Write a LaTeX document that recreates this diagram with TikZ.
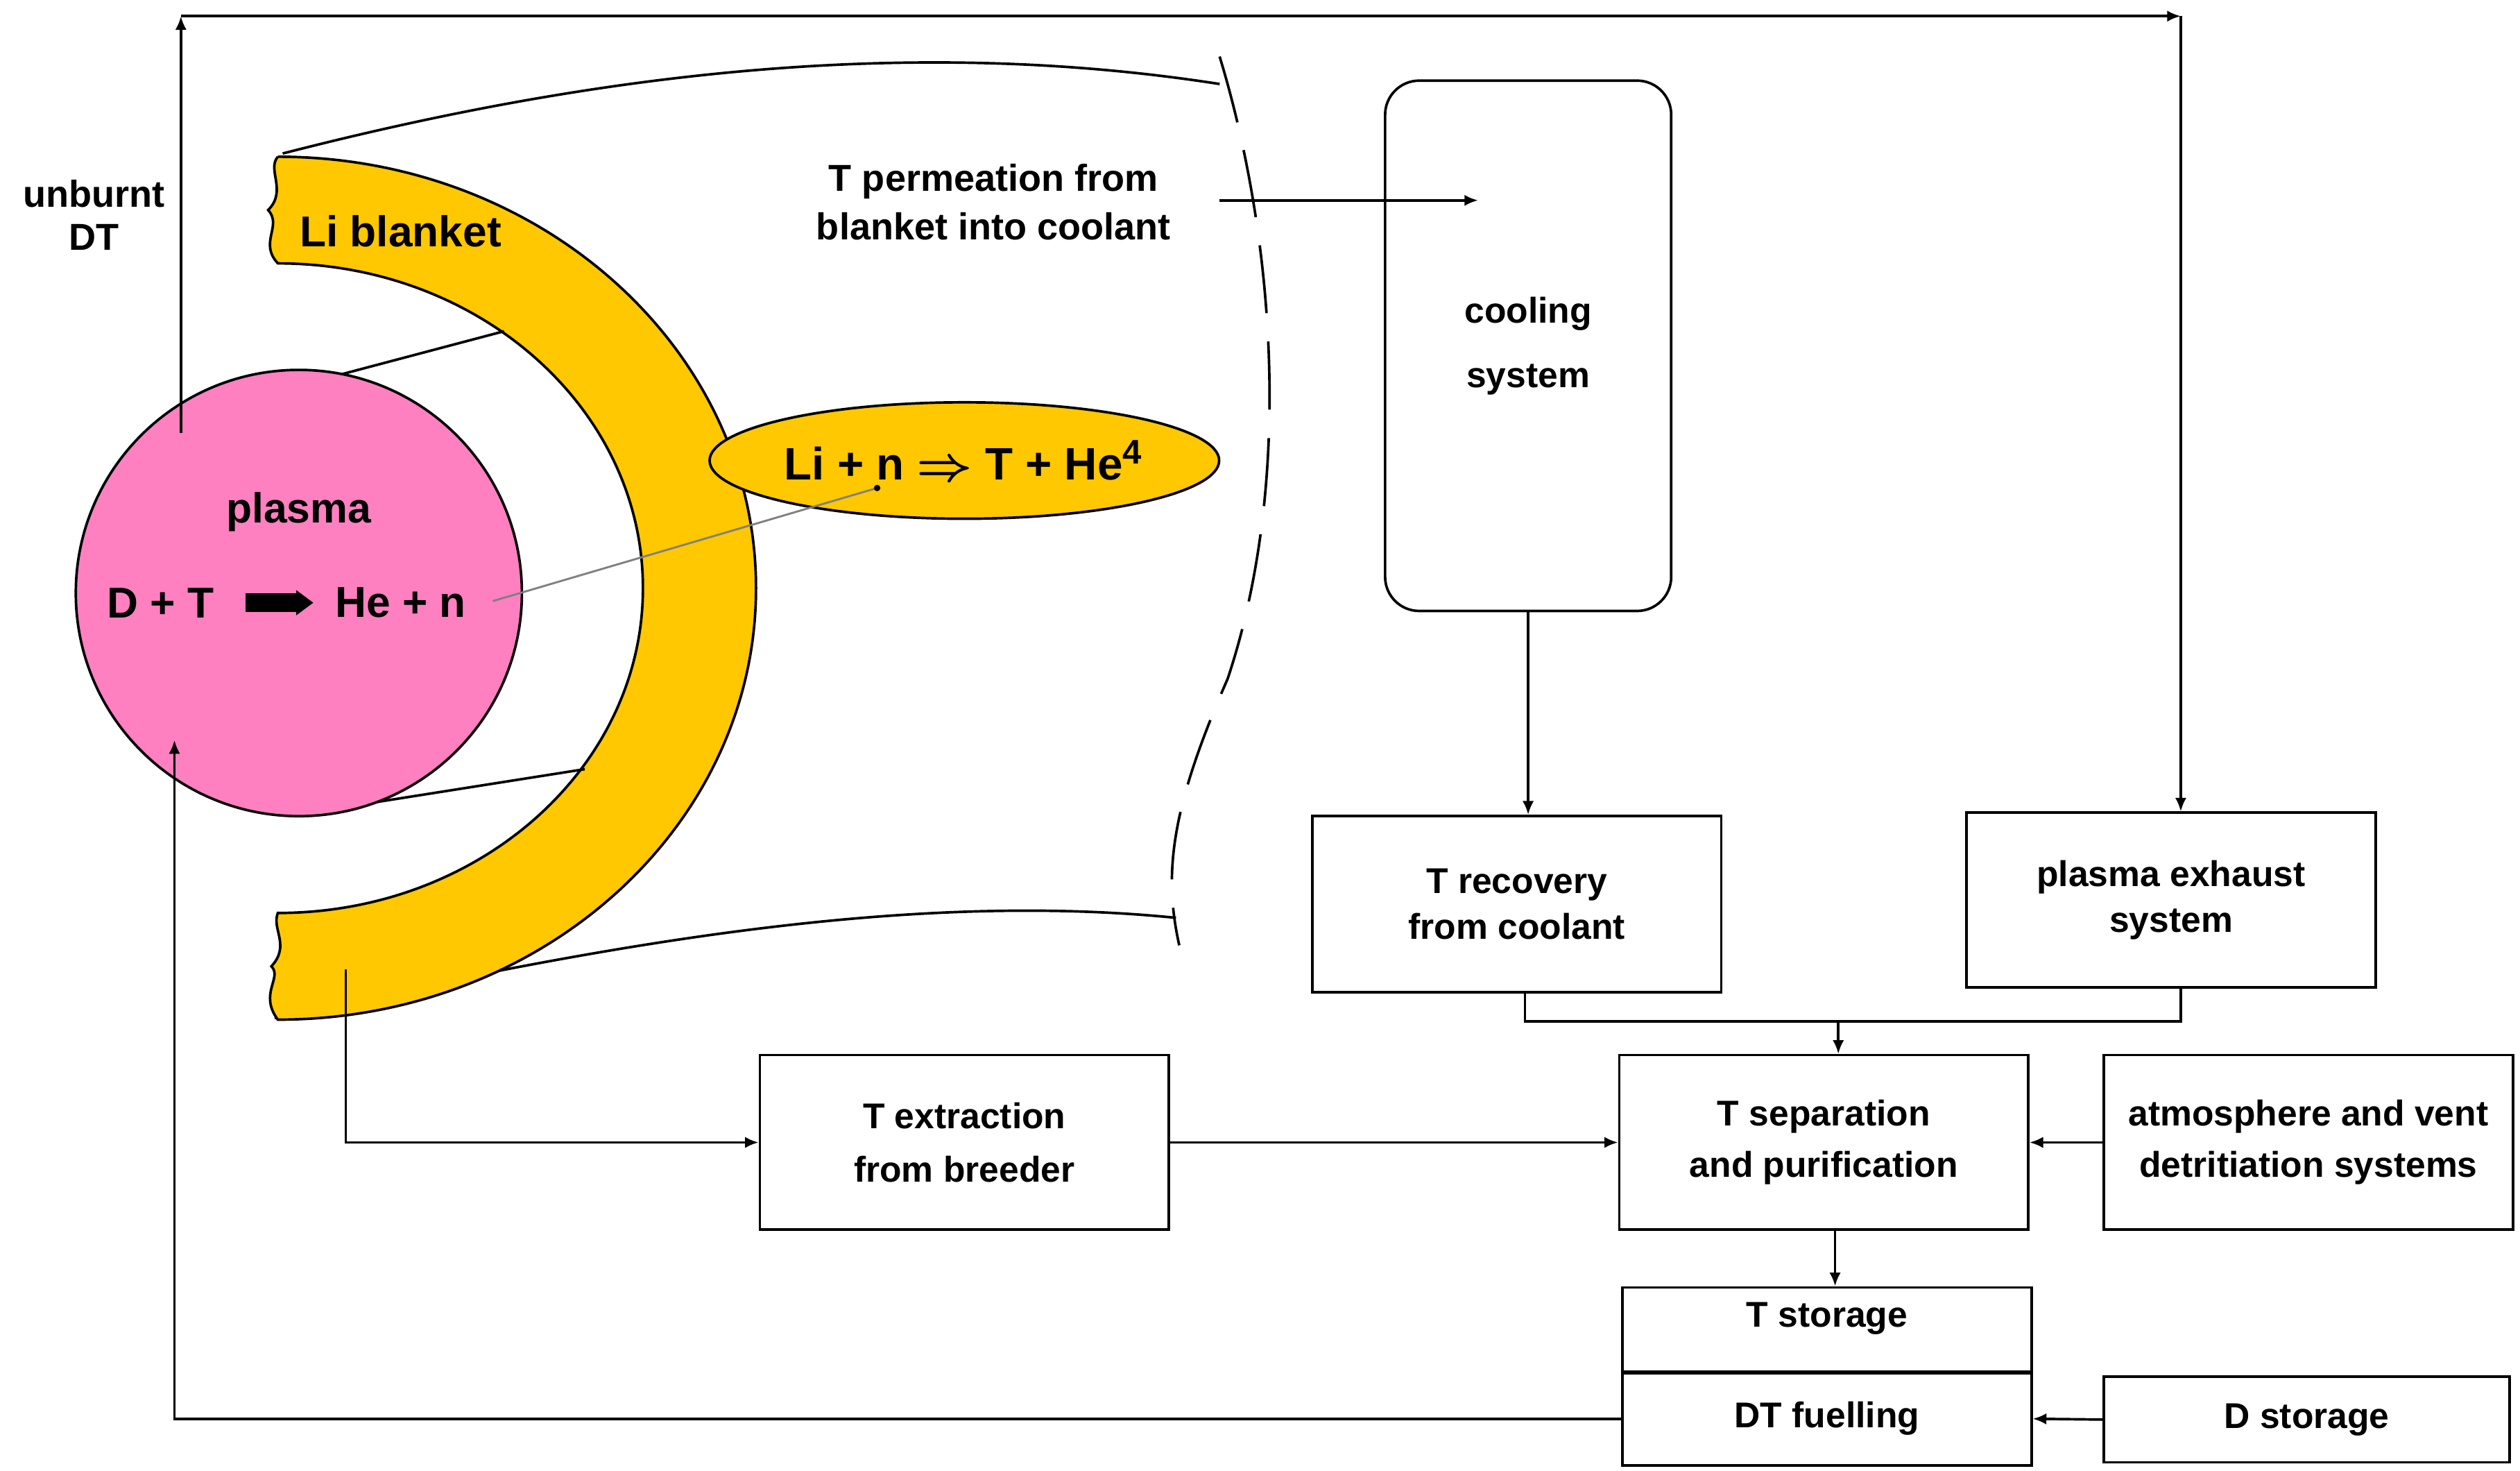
\documentclass[tikz,border=0pt]{standalone}
\usepackage{amsmath}
\usepackage{fontspec}
\setmainfont{Liberation Sans}
\usetikzlibrary{arrows.meta,shapes.geometric}
\begin{document}
\begin{tikzpicture}[x=0.01cm,y=-0.01cm,line width=0.45pt,
  box/.style={draw,align=center,font=\fontsize{6.3}{8}\selectfont\bfseries,inner sep=0pt},
  arr/.style={-{Latex[length=2.4pt,width=2pt]}},
  lbl/.style={font=\fontsize{6.6}{8.5}\selectfont\bfseries,align=center}]
\useasboundingbox (0,0) rectangle (1560,910);
\definecolor{gold}{RGB}{255,200,0}
\definecolor{pink}{RGB}{255,128,192}
% outer shells
\draw (175,95) .. controls (350,50) and (550,20) .. (755,52);
\draw (170,630) .. controls (350,590) and (550,550) .. (728,568);
\draw[dash pattern=on 12pt off 5pt] (755,35) .. controls (790,150) and (800,300) .. (760,420) .. controls (725,500) and (720,540) .. (730,585);
% blanket
\draw[fill=gold] (172,97) arc[start angle=-90,end angle=90,x radius=296,y radius=267]
  .. controls (160,615) and (175,605) .. (168,598)
  .. controls (180,585) and (168,575) .. (172,565)
  arc[start angle=90,end angle=-90,x radius=226,y radius=201]
  .. controls (160,150) and (175,140) .. (166,130)
  .. controls (178,118) and (165,105) .. (172,97);
% plasma
\draw (210,232) -- (312,205);
\draw (210,500) -- (362,476);
\node[circle,draw,fill=pink,minimum size=2.76cm,inner sep=0pt] (pl) at (185,367) {};
\node[lbl,font=\fontsize{7.4}{9}\selectfont\bfseries] (plt) at (185,317) {plasma};
\node[lbl,font=\fontsize{7.6}{9}\selectfont\bfseries,anchor=east] (dt) at (145,373) {D + T};
\node[lbl,font=\fontsize{7.6}{9}\selectfont\bfseries,anchor=west] (hen) at (195,373) {He + n};
\draw[line width=3.3pt,-{Triangle[length=3pt,width=4.2pt]}] (152,373) -- (194,373);
\node[lbl,font=\fontsize{7.6}{9}\selectfont\bfseries] (lib) at (248,143) {Li blanket};
\node[lbl] (ub) at (58,133) {unburnt\\[-1pt]DT};
% reaction ellipse
\node[ellipse,draw,fill=gold,minimum width=2.66cm,minimum height=0.72cm,inner sep=0pt,font=\fontsize{8}{9}\selectfont\bfseries] (rx) at (597,285) {Li + n $\boldsymbol{\Rightarrow}$ T + He$^{\mathbf 4}$};
\coordinate (n1) at (305,372);
\coordinate (n2) at (543,302);
\draw[gray,line width=0.35pt] (n1) -- (n2);
\fill (n2) circle (2);
% permeation
\node[lbl] (perm) at (615,125) {T permeation from\\blanket into coolant};
\coordinate (pa) at (755,124);
\coordinate (pb) at (915,124);
\draw[arr] (pa) -- (pb);
% boxes
\node[box,rounded corners=6pt,minimum width=1.77cm,minimum height=3.28cm,font=\fontsize{6.3}{11.4}\selectfont\bfseries] (cool) at (946,214) {cooling\\system};
\node[box,minimum width=2.53cm,minimum height=1.09cm] (rec) at (939,559.5) {T recovery\\from coolant};
\node[box,minimum width=2.53cm,minimum height=1.08cm] (exh) at (1344,557) {plasma exhaust\\system};
\node[box,minimum width=2.53cm,minimum height=1.08cm,font=\fontsize{6.3}{9.4}\selectfont\bfseries] (ext) at (597,707) {T extraction\\from breeder};
\node[box,minimum width=2.53cm,minimum height=1.08cm,font=\fontsize{6.3}{9}\selectfont\bfseries] (sep) at (1129,707) {T separation\\and purification};
\node[box,minimum width=2.53cm,minimum height=1.08cm,font=\fontsize{6.3}{9}\selectfont\bfseries] (atm) at (1429,707) {atmosphere and vent\\detritiation systems};
\node[box,minimum width=2.53cm,minimum height=0.53cm,anchor=north] (ts) at (1131,796) {};
\node[font=\fontsize{6.3}{8}\selectfont\bfseries] at (1131,816) {T storage};
\node[box,minimum width=2.53cm,minimum height=0.58cm] (dtf) at (1131,878) {DT fuelling};
\node[box,minimum width=2.51cm,minimum height=0.53cm] (ds) at (1428,878.5) {D storage};
% connectors
\draw[arr] (cool.south) -- (rec.north -| cool.south);
\coordinate (tl) at (112,10);
\coordinate (tr) at (1350,10);
\coordinate (pu) at (112,268);
\draw[arr] (pu) -- (tl);
\draw[arr] (tl) -- (tr);
\draw[arr] (tr) -- (exh.north -| tr);
\coordinate (j) at (1138,632);
\draw (rec.south -| 944,0) |- (j) -| (exh.south -| 1350,0);
\draw[arr] (j) -- (sep.north -| j);
\coordinate (bl) at (214,600);
\draw[arr] (bl) |- (ext.west);
\draw[arr] (ext.east) -- (sep.west);
\draw[arr] (atm.west) -- (sep.east);
\draw[arr] (sep.south -| 1136,0) -- (ts.north -| 1136,0);
\draw[arr] (ds.west) -- (dtf.east);
\coordinate (pf) at (108,458);
\draw[arr] (dtf.west) -| (pf);
\end{tikzpicture}
\end{document}
